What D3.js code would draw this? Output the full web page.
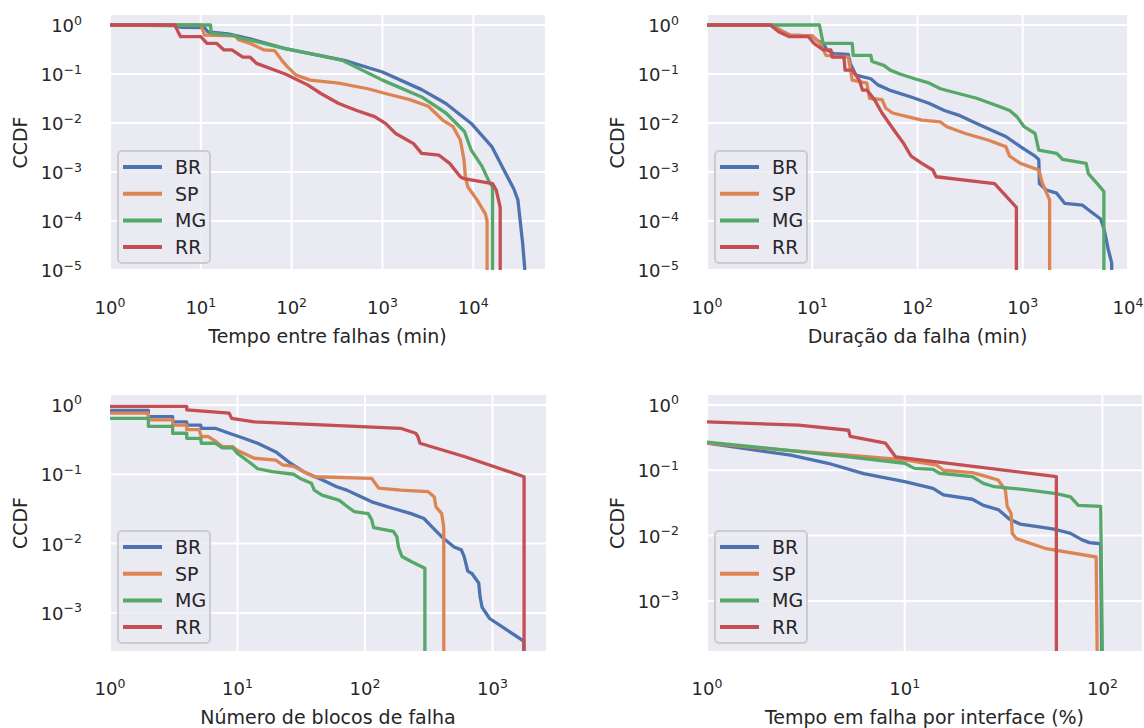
<!DOCTYPE html>
<html>
<head>
<meta charset="utf-8">
<script src="https://cdn.jsdelivr.net/npm/d3@7"></script>
<style>
  body { margin: 0; background: #fff; }
  svg { font-family: "DejaVu Sans", sans-serif; }
</style>
</head>
<body>
<svg id="chart" width="1144" height="728"></svg>
<script>
// Series names, in plotting order
const regions = ['BR', 'SP', 'MG', 'RR'];

// Tempo entre falhas (min) -> CCDF
const tbfBR = [[1,1],[5,0.97],[6,0.9],[11,0.88],[12,0.72],[20,0.66],[35,0.52],[85,0.33],[200,0.24],[380,0.19],[1000,0.11],[2700,0.048],[5000,0.025],[9500,0.0098],[16000,0.0033],[23000,0.0009],[28000,0.00045],[31000,0.00027],[35000,0.000035],[37000,0.00001]];
const tbfSP = [[1,1],[10,1],[11,0.62],[24,0.6],[26,0.5],[35,0.42],[50,0.31],[65,0.3],[78,0.19],[90,0.14],[112,0.095],[160,0.075],[330,0.065],[690,0.05],[1080,0.04],[2000,0.03],[3200,0.022],[4600,0.0115],[6000,0.0084],[7200,0.0045],[7900,0.0018],[8200,0.0008],[8700,0.0005],[11000,0.00027],[13600,0.00014],[14200,0.0001],[14200,0.00001]];
const tbfMG = [[1,1],[12.8,1],[13,0.68],[24,0.6],[26,0.55],[35,0.49],[85,0.33],[200,0.24],[360,0.19],[1000,0.075],[2700,0.034],[5000,0.016],[8000,0.0067],[9500,0.0028],[12500,0.0013],[15000,0.00063],[16300,0.0005],[16300,0.00001]];
const tbfRR = [[1,1],[5.2,1],[5.6,0.73],[6,0.58],[10,0.58],[11.7,0.42],[15,0.42],[18,0.31],[22,0.31],[29,0.22],[35,0.22],[41,0.165],[85,0.1],[150,0.06],[210,0.04],[330,0.025],[520,0.018],[820,0.0135],[1080,0.0098],[1400,0.0061],[2200,0.0038],[2700,0.0024],[4200,0.0022],[5500,0.0015],[7200,0.0008],[7900,0.00073],[16300,0.00058],[17900,0.00043],[19800,0.00019],[19800,0.00001]];

// Duração da falha (min) -> CCDF
const durBR = [[1,1],[4,1],[5.3,0.73],[6.2,0.62],[10,0.6],[11,0.49],[12.7,0.42],[13.8,0.31],[16,0.26],[22,0.25],[23,0.165],[26,0.095],[36,0.08],[42,0.06],[54,0.047],[87,0.034],[130,0.025],[180,0.018],[245,0.0145],[365,0.0098],[500,0.0072],[690,0.0053],[950,0.0033],[1310,0.0021],[1420,0.0018],[1440,0.00058],[1670,0.00043],[2100,0.00037],[2500,0.00023],[3700,0.00021],[4350,0.00016],[5500,0.00011],[5950,0.000066],[6500,0.000026],[7000,0.000014],[7000,0.00001]];
const durSP = [[1,1],[4,1],[5.3,0.73],[6.2,0.62],[10,0.6],[11,0.5],[12,0.42],[13.5,0.24],[22,0.22],[24,0.075],[33,0.065],[35,0.032],[46,0.03],[50,0.02],[58,0.016],[80,0.0135],[110,0.0115],[165,0.0105],[190,0.0084],[285,0.0061],[465,0.0045],[690,0.0033],[750,0.0021],[950,0.0015],[1420,0.0011],[1540,0.00058],[1800,0.00027],[1800,0.00001]];
const durMG = [[1,1],[11.7,1],[12.7,0.42],[24,0.42],[24.5,0.24],[36,0.24],[37,0.18],[48,0.15],[55,0.12],[68,0.1],[94,0.08],[130,0.065],[165,0.05],[245,0.04],[365,0.032],[590,0.022],[750,0.018],[880,0.0135],[1030,0.0084],[1310,0.0061],[1420,0.0028],[2100,0.0024],[2400,0.0018],[4000,0.0015],[4200,0.00093],[5100,0.00058],[5900,0.0004],[5900,0.00001]];
const durRR = [[1,1],[4,1],[4.8,0.73],[6,0.58],[9.2,0.58],[10.4,0.42],[12.7,0.31],[15,0.31],[15.5,0.22],[20,0.22],[20.5,0.12],[24,0.12],[28,0.075],[30,0.047],[33,0.047],[39,0.03],[46,0.016],[54,0.0098],[63,0.0061],[74,0.0038],[87,0.0021],[110,0.0015],[140,0.0011],[150,0.0008],[540,0.00058],[870,0.00019],[870,0.00001]];

// Número de blocos de falha -> CCDF
const blkBR = [[1,0.83],[2,0.83],[2,0.68],[3.1,0.68],[3.1,0.57],[4,0.57],[4,0.51],[5.15,0.51],[5.2,0.46],[6.7,0.46],[8.6,0.39],[11.2,0.33],[14.4,0.28],[20,0.21],[26,0.144],[33,0.109],[46,0.083],[60,0.066],[72,0.059],[87,0.05],[113,0.04],[167,0.032],[230,0.027],[290,0.023],[340,0.017],[410,0.012],[500,0.0089],[570,0.0081],[600,0.0065],[640,0.004],[690,0.0037],[780,0.0027],[800,0.0017],[830,0.0012],[950,0.00083],[1760,0.00039],[1760,0.00001]];
const blkSP = [[1,0.76],[2,0.76],[2,0.61],[3.1,0.61],[3.1,0.51],[4,0.51],[4,0.44],[5,0.44],[5.2,0.35],[5.9,0.35],[6.7,0.3],[7.6,0.25],[9.2,0.25],[10,0.22],[11.2,0.2],[13.5,0.17],[20,0.16],[22.6,0.136],[27.5,0.13],[33,0.109],[40,0.092],[113,0.087],[128,0.063],[190,0.059],[313,0.056],[350,0.047],[360,0.034],[400,0.027],[415,0.017],[415,0.00001]];
const blkMG = [[1,0.64],[2,0.64],[2,0.49],[3.1,0.49],[3.1,0.39],[4,0.39],[4,0.33],[5.15,0.33],[5.2,0.28],[6.7,0.28],[7.6,0.24],[9.2,0.24],[10,0.2],[12.7,0.144],[14.4,0.12],[18.7,0.109],[27.5,0.1],[31,0.087],[38,0.074],[40,0.059],[46,0.05],[63,0.042],[70,0.036],[82,0.029],[106,0.027],[113,0.022],[117,0.017],[167,0.015],[178,0.0125],[183,0.0089],[195,0.0065],[230,0.0055],[295,0.0044],[295,0.00001]];
const blkRR = [[1,0.95],[4,0.95],[4,0.85],[8.6,0.76],[9,0.64],[13.5,0.57],[190,0.46],[250,0.39],[260,0.35],[270,0.28],[600,0.18],[1770,0.092],[1770,0.00001]];

// Tempo em falha por interface (%) -> CCDF
const pctBR = [[1,0.26],[2.65,0.17],[4.1,0.128],[6.2,0.089],[10,0.067],[13.9,0.053],[15.7,0.042],[22,0.036],[25,0.029],[29.7,0.025],[33.8,0.018],[38.3,0.015],[47,0.0137],[58,0.0124],[69,0.0108],[79,0.0086],[86,0.0078],[98,0.0075],[100,0.00001]];
const pctSP = [[1,0.26],[2.65,0.2],[5.2,0.17],[10,0.144],[14.5,0.12],[15.7,0.1],[22,0.092],[26,0.08],[29.7,0.071],[32.3,0.05],[33,0.028],[34.5,0.022],[35,0.0108],[36.7,0.009],[52,0.0063],[93,0.0047],[95,0.00001]];
const pctMG = [[1,0.27],[2.65,0.2],[5.2,0.16],[10,0.128],[11.2,0.107],[13.9,0.103],[15,0.09],[22,0.08],[25,0.063],[28.4,0.056],[35,0.053],[41.7,0.05],[58.5,0.044],[69,0.039],[75.5,0.029],[98,0.028],[101,0.00001]];
const pctRR = [[1,0.55],[2.9,0.49],[5.2,0.41],[5.3,0.33],[8,0.26],[9,0.16],[58.5,0.08],[58.5,0.00001]];

// Tick exponents (labels are 10^k)
const xExpTbf = [0, 1, 2, 3, 4];
const xExpDur = [0, 1, 2, 3, 4];
const xExpBlk = [0, 1, 2, 3];
const xExpPct = [0, 1, 2];
const yExpTop = [0, -1, -2, -3, -4, -5];
const yExpBottom = [0, -1, -2, -3];

const colors = ['#4c72b0', '#dd8452', '#55a868', '#c44e52'];
const ink = '#262626';

const panels = [
  { box: [110, 545, 15, 270], xDomain: [1, 61660], yDomain: [1e-5, 1.6],
    series: [tbfBR, tbfSP, tbfMG, tbfRR], xExp: xExpTbf, yExp: yExpTop,
    xLabel: 'Tempo entre falhas (min)' },
  { box: [707, 1128, 15, 270], xDomain: [1, 1e4], yDomain: [1e-5, 1.6],
    series: [durBR, durSP, durMG, durRR], xExp: xExpDur, yExp: yExpTop,
    xLabel: 'Duração da falha (min)' },
  { box: [110, 546, 395, 651], xDomain: [1, 2630], yDomain: [2.82e-4, 1.39],
    series: [blkBR, blkSP, blkMG, blkRR], xExp: xExpBlk, yExp: yExpBottom,
    xLabel: 'Número de blocos de falha' },
  { box: [707, 1142, 395, 651], xDomain: [1, 158.6], yDomain: [1.71e-4, 1.42],
    series: [pctBR, pctSP, pctMG, pctRR], xExp: xExpPct, yExp: yExpBottom,
    xLabel: 'Tempo em falha por interface (%)' }
];

const svg = d3.select('#chart');

// writes 10 with a superscript exponent into a text element
function powerLabel(sel, k) {
  sel.append('tspan').text('10');
  sel.append('tspan')
    .attr('dy', -7.5)
    .attr('font-size', 12.5)
    .text(k < 0 ? '\u2212' + (-k) : String(k));
}

panels.forEach((p, i) => {
  const [left, right, top, bottom] = p.box;
  const x = d3.scaleLog().domain(p.xDomain).range([left, right]);
  const y = d3.scaleLog().domain(p.yDomain).range([bottom, top]);
  const g = svg.append('g');

  g.append('clipPath').attr('id', 'clip' + i)
    .append('rect')
    .attr('x', left).attr('y', top)
    .attr('width', right - left).attr('height', bottom - top);

  g.append('rect')
    .attr('x', left).attr('y', top)
    .attr('width', right - left).attr('height', bottom - top)
    .attr('fill', '#eaeaf2');

  // Grid
  const grid = g.append('g').attr('clip-path', `url(#clip${i})`)
    .attr('stroke', '#fff').attr('stroke-width', 2);
  grid.selectAll('.vg').data(p.xExp).enter().append('line')
    .attr('x1', k => x(Math.pow(10, k))).attr('x2', k => x(Math.pow(10, k)))
    .attr('y1', top).attr('y2', bottom);
  grid.selectAll('.hg').data(p.yExp).enter().append('line')
    .attr('y1', k => y(Math.pow(10, k))).attr('y2', k => y(Math.pow(10, k)))
    .attr('x1', left).attr('x2', right);

  // Curves
  const line = d3.line().x(d => x(d[0])).y(d => y(d[1]));
  g.append('g').attr('clip-path', `url(#clip${i})`)
    .selectAll('path').data(p.series).enter().append('path')
    .attr('d', line)
    .attr('fill', 'none')
    .attr('stroke', (d, j) => colors[j])
    .attr('stroke-width', 3.3)
    .attr('stroke-linejoin', 'round');

  // Tick labels
  g.selectAll('.xt').data(p.xExp).enter().append('text')
    .attr('x', k => x(Math.pow(10, k)))
    .attr('y', bottom + 44)
    .attr('text-anchor', 'middle')
    .attr('font-size', 18).attr('fill', ink)
    .each(function (k) { powerLabel(d3.select(this), k); });

  g.selectAll('.yt').data(p.yExp).enter().append('text')
    .attr('x', left - 28)
    .attr('y', k => y(Math.pow(10, k)) + 7)
    .attr('text-anchor', 'end')
    .attr('font-size', 18).attr('fill', ink)
    .each(function (k) { powerLabel(d3.select(this), k); });

  // Axis labels
  g.append('text')
    .attr('x', (left + right) / 2).attr('y', bottom + 73)
    .attr('text-anchor', 'middle')
    .attr('font-size', 19).attr('fill', ink)
    .text(p.xLabel);

  g.append('text')
    .attr('transform', `translate(${left - 83}, ${(top + bottom) / 2}) rotate(-90)`)
    .attr('text-anchor', 'middle')
    .attr('font-size', 19).attr('fill', ink)
    .text('CCDF');

  // Legend
  const lx = left + 8, ly = top + 136;
  const legend = g.append('g');
  legend.append('rect')
    .attr('x', lx).attr('y', ly).attr('width', 92).attr('height', 112)
    .attr('rx', 4)
    .attr('fill', '#eaeaf2').attr('fill-opacity', 0.8)
    .attr('stroke', '#cccccc').attr('stroke-width', 2);
  const rows = legend.selectAll('.row').data(regions).enter().append('g')
    .attr('transform', (d, j) => `translate(${lx}, ${ly + 16 + j * 26.7})`);
  rows.append('line')
    .attr('x1', 5).attr('x2', 44).attr('y1', 0).attr('y2', 0)
    .attr('stroke', (d, j) => colors[j]).attr('stroke-width', 4);
  rows.append('text')
    .attr('x', 57).attr('y', 7)
    .attr('font-size', 19).attr('fill', ink)
    .text(d => d);
});
</script>
</body>
</html>
